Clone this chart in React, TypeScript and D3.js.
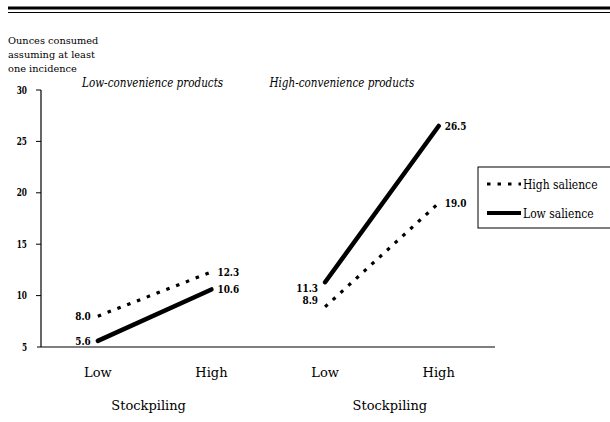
import * as d3 from "d3";
import { useEffect, useRef } from "react";

const panels = ["Low-convenience products", "High-convenience products"];
const levels = ["Low", "High"];
const seriesNames = ["High salience", "Low salience"];
// values[panel] = [Low, High]
const highSalience = [
  [8.0, 12.3],
  [8.9, 19.0],
];
const lowSalience = [
  [5.6, 10.6],
  [11.3, 26.5],
];
const yTicks = [5, 10, 15, 20, 25, 30];
const yTitle = ["Ounces consumed", "assuming at least", "one incidence"];
const xTitle = "Stockpiling";

export default function App() {
  const ref = useRef<SVGSVGElement | null>(null);

  useEffect(() => {
    const svg = d3.select(ref.current);
    svg.selectAll("*").remove();
    const W = 610,
      H = 422;
    const serif = "'DejaVu Serif', serif";

    svg.append("rect").attr("width", W).attr("height", H).attr("fill", "#fff");

    // double rule at top
    svg.append("line").attr("x1", 8).attr("x2", W).attr("y1", 8).attr("y2", 8)
      .attr("stroke", "#000").attr("stroke-width", 3);
    svg.append("line").attr("x1", 8).attr("x2", W).attr("y1", 12.5).attr("y2", 12.5)
      .attr("stroke", "#000").attr("stroke-width", 1.2);

    const left = 41,
      right = 495,
      top = 90,
      bottom = 347;

    const y = d3.scaleLinear().domain([5, 30]).range([bottom, top]);
    const xPanel = d3.scaleBand<string>().domain(panels).range([left, right + 0.5]);
    const xIn = d3.scalePoint<string>().domain(levels).range([0, xPanel.bandwidth()]).padding(0.5);

    // text helper: DejaVu Serif is wide, so narrow it a bit to look like the original
    const txt = (parent: any, size: number, k: number, s: string | number) => {
      const t = parent.append("text")
        .style("font-family", serif)
        .attr("font-size", size)
        .attr("fill", "#000")
        .text(s);
      return { t, k };
    };
    const fit = (o: { t: any; k: number }) => {
      if (o.k !== 1) {
        const n = o.t.node() as SVGTextElement;
        o.t.attr("textLength", n.getComputedTextLength() * o.k).attr("lengthAdjust", "spacingAndGlyphs");
      }
      return o.t;
    };

    // axes
    const g = svg.append("g");
    g.append("line").attr("x1", left).attr("x2", left).attr("y1", top).attr("y2", bottom)
      .attr("stroke", "#000").attr("stroke-width", 1.2);
    g.append("line").attr("x1", left - 4).attr("x2", right).attr("y1", bottom).attr("y2", bottom)
      .attr("stroke", "#000").attr("stroke-width", 1.2);

    yTicks.forEach((t) => {
      if (t !== 5) {
        g.append("line").attr("x1", left - 5).attr("x2", left).attr("y1", y(t)).attr("y2", y(t))
          .attr("stroke", "#000").attr("stroke-width", 1);
      }
      const o = txt(g, 10.5, 0.7, t);
      o.t.attr("y", y(t) + 3.5).attr("font-weight", "bold");
      const w = (o.t.node() as SVGTextElement).getComputedTextLength() * o.k;
      fit(o).attr("x", 27 - w);
    });

    // y title
    yTitle.forEach((line, i) => {
      fit(txt(svg, 9.5, 1.03, line))
        .attr("x", 8)
        .attr("y", 43.5 + i * 14.3);
    });

    const series = [highSalience, lowSalience];
    // vertical pull of the Low-end labels toward each other, per panel
    const lowLabelPull = [0, 12.5];

    panels.forEach((p, pi) => {
      const x0 = xPanel(p)!;
      const cx = x0 + xPanel.bandwidth() / 2;

      // panel title
      const to = txt(svg, 13, 0.8, p);
      to.t.attr("font-style", "italic");
      const tw = (to.t.node() as SVGTextElement).getComputedTextLength() * to.k;
      fit(to).attr("x", (pi === 0 ? cx - 2 : cx - 40) - tw / 2).attr("y", 87);

      // category labels
      levels.forEach((lv) => {
        fit(txt(svg, 13, 1, lv))
          .attr("x", x0 + xIn(lv)!)
          .attr("y", 377)
          .attr("text-anchor", "middle");
      });

      fit(txt(svg, 13, 1, xTitle))
        .attr("x", cx + (pi === 0 ? -6 : 8))
        .attr("y", 410)
        .attr("text-anchor", "middle");

      const line = d3.line<[string, number]>()
        .x((d) => x0 + xIn(d[0])!)
        .y((d) => y(d[1]));

      series.forEach((s, si) => {
        const pts: [string, number][] = levels.map((lv, li) => [lv, s[pi][li]]);
        svg.append("path")
          .attr("d", line(pts)!)
          .attr("fill", "none")
          .attr("stroke", "#000")
          .attr("stroke-width", si === 0 ? 3.2 : 4.5)
          .attr("stroke-dasharray", si === 0 ? "3.5,7" : null)
          .attr("stroke-linecap", si === 0 ? "butt" : "round");
      });

      // data labels
      levels.forEach((lv, li) => {
        const vals = series.map((s) => s[pi][li]);
        const ys = vals.map((v) => y(v));
        if (li === 0 && lowLabelPull[pi]) {
          const sgn = ys[0] > ys[1] ? 1 : -1;
          ys[0] -= sgn * lowLabelPull[pi] / 2 + sgn * 0.5;
          ys[1] += sgn * lowLabelPull[pi] / 2;
        }
        vals.forEach((v, si) => {
          const px = x0 + xIn(lv)!;
          const o = txt(svg, 10.5, 0.85, d3.format(".1f")(v));
          o.t.attr("font-weight", "bold").attr("y", ys[si] + 4);
          const w = (o.t.node() as SVGTextElement).getComputedTextLength() * o.k;
          fit(o).attr("x", li === 0 ? px - 7 - w : px + 6);
        });
      });
    });

    // legend
    const lg = svg.append("g").attr("transform", "translate(478,167)");
    lg.append("rect").attr("width", 140).attr("height", 61)
      .attr("fill", "#fff").attr("stroke", "#000").attr("stroke-width", 1);
    seriesNames.forEach((name, i) => {
      const ly = 17 + i * 29;
      lg.append("line").attr("x1", 9).attr("x2", 43).attr("y1", ly).attr("y2", ly)
        .attr("stroke", "#000")
        .attr("stroke-width", i === 0 ? 3.2 : 4)
        .attr("stroke-dasharray", i === 0 ? "3.5,7" : null);
      fit(txt(lg, 12.5, 0.86, name))
        .attr("x", 45)
        .attr("y", ly + 4.5);
    });
  }, []);

  return (
    <div style={{ position: "absolute", left: 0, top: 0 }}>
      <svg ref={ref} width={610} height={422} style={{ display: "block" }} />
    </div>
  );
}
